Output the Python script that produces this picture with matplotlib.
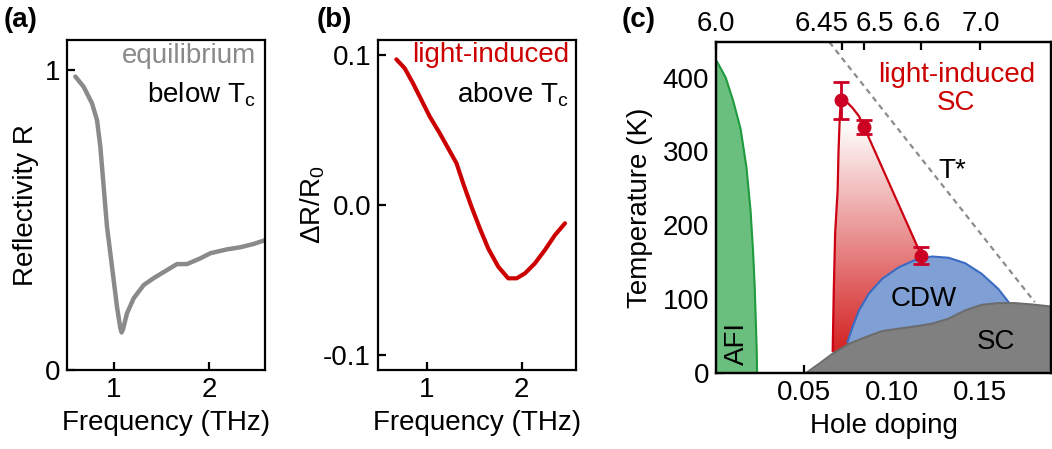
import numpy as np
import matplotlib
matplotlib.use('Agg')
import matplotlib.pyplot as plt
import matplotlib.transforms as mtransforms
from matplotlib.path import Path
from matplotlib.patches import PathPatch
from matplotlib.colors import LinearSegmentedColormap

plt.rcParams['font.family'] = ['Liberation Sans', 'DejaVu Sans']
plt.rcParams['mathtext.default'] = 'regular'
plt.rcParams['font.size'] = 20

# (a) equilibrium reflectivity below Tc
freq_a = [0.593, 0.68, 0.768, 0.821, 0.856, 0.891, 0.926, 0.979, 1.031, 1.066, 1.08, 1.094, 1.137,
          1.207, 1.312, 1.417, 1.558, 1.663, 1.768, 1.909, 2.014, 2.189, 2.33, 2.47, 2.593]
refl_a = [0.978, 0.944, 0.889, 0.833, 0.744, 0.611, 0.478, 0.344, 0.211, 0.14, 0.125, 0.135, 0.189,
          0.239, 0.283, 0.306, 0.333, 0.353, 0.353, 0.372, 0.389, 0.402, 0.409, 0.42, 0.433]

# (b) light-induced dR/R0 above Tc
freq_b = [0.683, 0.771, 0.858, 0.946, 1.034, 1.139, 1.227, 1.315, 1.385, 1.472, 1.56, 1.648,
          1.753, 1.858, 1.946, 2.034, 2.139, 2.244, 2.35, 2.455]
drr_b = [0.0971, 0.0911, 0.0811, 0.070, 0.0589, 0.0478, 0.0378, 0.0278, 0.0144, -0.0011, -0.0156,
         -0.029, -0.0411, -0.0489, -0.0489, -0.0456, -0.0389, -0.030, -0.020, -0.0122]

# (c) phase diagram
afi_T = [421, 400, 368, 330, 278, 220, 166, 120, 76, 30, 0]
afi_x = [0.0007, 0.0055, 0.0098, 0.0140, 0.0173, 0.0196, 0.0210, 0.0219, 0.0225, 0.0231, 0.0233]

cdw_x = [0.0746, 0.0774, 0.0811, 0.0867, 0.0943, 0.1037, 0.113, 0.1225, 0.1319, 0.1413, 0.1507,
         0.1601, 0.1667, 0.172]
cdw_T = [41.9, 62, 84.7, 107.5, 127.6, 143.2, 153, 157.7, 156, 148.7, 134.3, 113.9, 93.7, 75]

sc_x = [0.0511, 0.0586, 0.0662, 0.0755, 0.085, 0.0943, 0.1037, 0.113, 0.1225, 0.1319, 0.1413,
        0.1507, 0.1601, 0.1695, 0.179, 0.19]
sc_T = [0, 12.7, 26.2, 39.6, 48.6, 56.8, 60, 63.1, 66.7, 73.5, 84.7, 92.3, 94.6, 94.6, 92.8, 90]

# light-induced SC boundary: left edge up to first point, arc, then down to last point
lisc_x = [0.0662, 0.0668, 0.0676, 0.069, 0.0695, 0.0702, 0.0708, 0.0745, 0.0774, 0.081, 0.084, 0.1165]
lisc_T = [30, 110, 190, 247, 300, 345, 369, 366, 359, 348, 333, 159]

pts_x = [0.0708, 0.084, 0.1165]
pts_T = [369, 333, 159]
pts_err = [25, 9, 11]

tstar_x = [0.0643, 0.1808]
tstar_T = [448, 96]

oxy_labels = ['6.0', '6.45', '6.5', '6.6', '7.0']
oxy_doping = [0.0, 0.0714, 0.084, 0.1165, 0.15]

fig = plt.figure(figsize=(10.52, 4.49), dpi=100)
ax_a = fig.add_axes([0.0637, 0.176, 0.1882, 0.735])
ax_b = fig.add_axes([0.3593, 0.176, 0.1882, 0.735])
ax_c = fig.add_axes([0.6806, 0.1693, 0.3184, 0.737])

for ax in (ax_a, ax_b, ax_c):
    for s in ax.spines.values():
        s.set_linewidth(1.6)
    ax.tick_params(direction='in', length=6, width=1.6, labelsize=20, pad=5)

# panel a
ax_a.plot(freq_a, refl_a, color='#8a8a8a', lw=3.2, solid_capstyle='round', solid_joinstyle='round')
ax_a.set_xlim(0.505, 2.59)
ax_a.set_ylim(0, 1.1)
ax_a.set_xticks([1, 2])
ax_a.set_yticks([0, 1])
ax_a.set_yticklabels(['0', '1'])
ax_a.set_xlabel('Frequency (THz)', fontsize=20, labelpad=5)
ax_a.set_ylabel('Reflectivity R', fontsize=20, labelpad=4)
ax_a.text(0.955, 0.95, 'equilibrium', transform=ax_a.transAxes, ha='right', va='center',
          color='#8a8a8a', fontsize=20)
ax_a.text(0.955, 0.835, 'below T$_c$', transform=ax_a.transAxes, ha='right', va='center',
          color='black', fontsize=20)
fig.text(0.003, 0.955, '(a)', fontweight='bold', fontsize=20, va='center')

# panel b
ax_b.plot(freq_b, drr_b, color='#cc0000', lw=3.0, solid_capstyle='round', solid_joinstyle='round')
ax_b.set_xlim(0.49, 2.57)
ax_b.set_ylim(-0.11, 0.11)
ax_b.set_xticks([1, 2])
ax_b.set_yticks([-0.1, 0.0, 0.1])
ax_b.set_yticklabels(['-0.1', '0.0', '0.1'])
ax_b.set_xlabel('Frequency (THz)', fontsize=20, labelpad=5)
ax_b.set_ylabel('ΔR/R$_0$', fontsize=20, labelpad=-3)
ax_b.text(0.965, 0.955, 'light-induced', transform=ax_b.transAxes, ha='right', va='center',
          color='#cc0000', fontsize=20)
ax_b.text(0.965, 0.835, 'above T$_c$', transform=ax_b.transAxes, ha='right', va='center',
          color='black', fontsize=20)
fig.text(0.301, 0.955, '(b)', fontweight='bold', fontsize=20, va='center')

# panel c
ax_c.set_xlim(0.0, 0.19)
ax_c.set_ylim(0, 448)

ax_c.fill_betweenx(afi_T, 0, afi_x, color='#6bbf7e', lw=0, zorder=2)
ax_c.plot(afi_x, afi_T, color='#1f9a3e', lw=1.5, zorder=3)

# gradient-filled light-induced SC region
verts = list(zip(lisc_x, lisc_T)) + [(lisc_x[-1], 0), (lisc_x[0], 0)]
patch = PathPatch(Path(verts), facecolor='none', edgecolor='none')
ax_c.add_patch(patch)
cmap = LinearSegmentedColormap.from_list('wr', ['#d42222', '#ffffff'])
grad = np.linspace(0, 1, 256).reshape(-1, 1)
im = ax_c.imshow(grad, extent=[0.06, 0.12, 30, 340], origin='lower', aspect='auto',
                 cmap=cmap, zorder=2, interpolation='bilinear')
im.set_clip_path(patch)
im2 = ax_c.imshow(np.zeros((2, 1)), extent=[0.06, 0.12, 0, 30], origin='lower', aspect='auto',
                  cmap=cmap, vmin=0, vmax=1, zorder=2)
im2.set_clip_path(patch)
ax_c.plot(lisc_x, lisc_T, color='#cc0010', lw=1.6, zorder=3)

# T* line
ax_c.plot(tstar_x, tstar_T, color='#8c8c8c', lw=1.6, ls=(0, (2.5, 2)), zorder=3)

# CDW dome
ax_c.fill_between(cdw_x, 0, cdw_T, color='#7f9fd5', lw=0, zorder=4)
ax_c.plot(cdw_x, cdw_T, color='#3a6bc2', lw=1.5, zorder=5)

# SC dome
ax_c.fill_between(sc_x, 0, sc_T, color='#808080', lw=0, zorder=6)
ax_c.plot(sc_x, sc_T, color='#6c6c6c', lw=1.5, zorder=7)

ax_c.errorbar(pts_x, pts_T, yerr=pts_err, fmt='o', color='#cc0022', ms=9, capsize=6,
              elinewidth=2, capthick=2, zorder=8)

ax_c.text(0.1364, 385, 'light-induced\nSC', color='#cc0000', ha='center', va='center',
          fontsize=20, linespacing=1.1, zorder=9)
ax_c.text(0.1338, 274, 'T*', ha='center', va='center', fontsize=20, zorder=9)
ax_c.text(0.1178, 100, 'CDW', ha='center', va='center', fontsize=20, zorder=9)
ax_c.text(0.159, 42, 'SC', ha='center', va='center', fontsize=20, zorder=9)
ax_c.text(0.0117, 40, 'AFI', ha='center', va='center', fontsize=20, rotation=90, zorder=9)

ax_c.set_xticks([0.05, 0.10, 0.15])
ax_c.set_xticklabels(['0.05', '0.10', '0.15'])
ax_c.set_yticks([0, 100, 200, 300, 400])
ax_c.set_xlabel('Hole doping', fontsize=20, labelpad=5)
ax_c.set_ylabel('Temperature (K)', fontsize=20, labelpad=7)

ax_top = ax_c.twiny()
ax_top.set_xlim(ax_c.get_xlim())
ax_top.set_xticks(oxy_doping)
ax_top.set_xticklabels(oxy_labels)
ax_top.tick_params(direction='in', length=6, width=1.6, labelsize=20, pad=4)
shifts = {'6.45': -20, '6.5': 11}
for lbl in ax_top.get_xticklabels():
    dx = shifts.get(lbl.get_text(), 0)
    if dx:
        lbl.set_transform(lbl.get_transform() +
                          mtransforms.ScaledTranslation(dx / 100, 0, fig.dpi_scale_trans))
for s in ax_top.spines.values():
    s.set_linewidth(1.6)
for s in ax_c.spines.values():
    s.set_zorder(10)
fig.text(0.591, 0.955, '(c)', fontweight='bold', fontsize=20, va='center')

fig.savefig('out.png', dpi=100)
